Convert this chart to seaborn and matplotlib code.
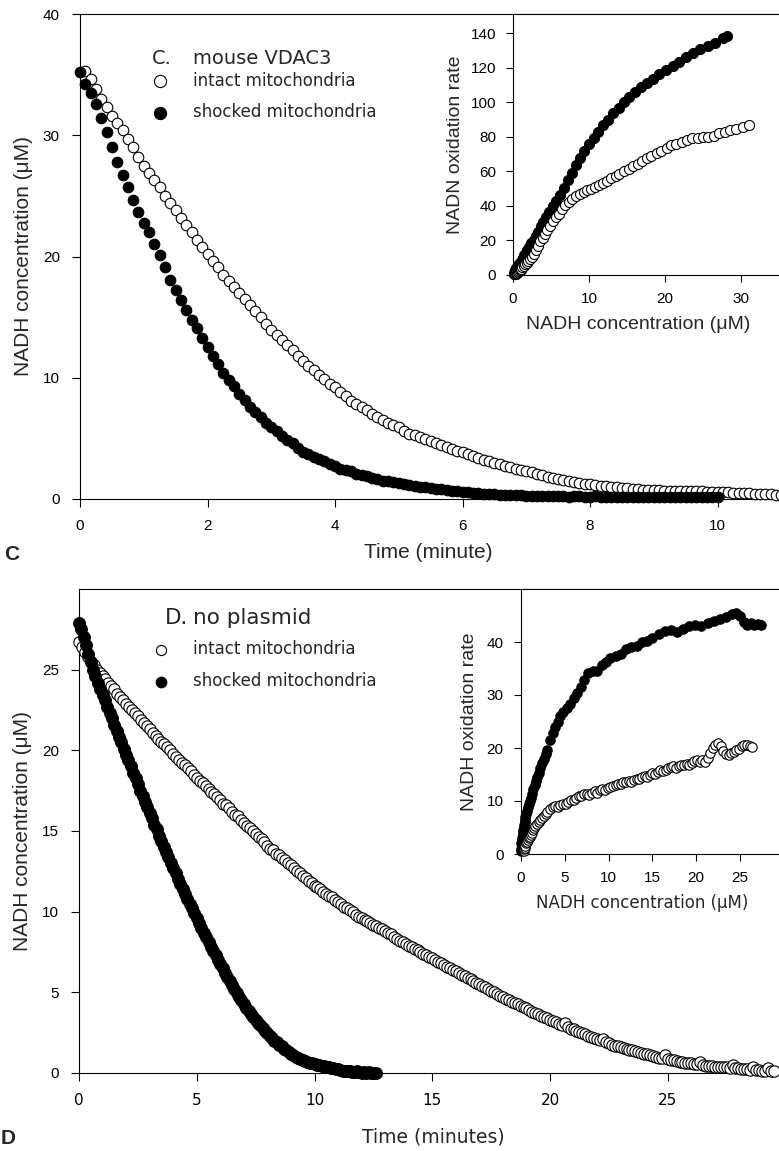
import matplotlib
matplotlib.use("Agg")
import matplotlib.pyplot as plt
import numpy as np
import seaborn as sns

# ---------------- panel C : mouse VDAC3 ----------------
# one reading every 5 s (1/12 min); intact trace starts one reading later
c_step = 5 / 60
c_intact = [
    35.3, 34.6, 33.8, 33.0, 32.3, 31.6, 31.0, 30.4, 29.7, 29.0,
    28.2, 27.5, 26.9, 26.3, 25.7, 25.0, 24.4, 23.8, 23.2, 22.6,
    22.0, 21.4, 20.8, 20.2, 19.6, 19.1, 18.5, 18.0, 17.5, 17.0,
    16.5, 16.0, 15.5, 15.0, 14.4, 13.9, 13.5, 13.1, 12.7, 12.3,
    11.8, 11.4, 11.0, 10.6, 10.2, 9.9, 9.5, 9.2, 8.8, 8.5,
    8.1, 7.8, 7.6, 7.3, 7.0, 6.8, 6.5, 6.3, 6.1, 5.9,
    5.6, 5.4, 5.25, 5.1, 4.95, 4.8, 4.6, 4.45, 4.3, 4.15,
    4.0, 3.85, 3.7, 3.55, 3.4, 3.25, 3.1, 3.0, 2.85, 2.75,
    2.6, 2.5, 2.4, 2.3, 2.2, 2.05, 1.95, 1.85, 1.75, 1.65,
    1.55, 1.45, 1.4, 1.3, 1.25, 1.2, 1.15, 1.1, 1.05, 1.0,
    0.97, 0.93, 0.9, 0.85, 0.8, 0.78, 0.75, 0.73, 0.72, 0.7,
    0.7, 0.68, 0.68, 0.66, 0.65, 0.63, 0.62, 0.6, 0.6, 0.58,
    0.56, 0.54, 0.52, 0.5, 0.48, 0.47, 0.45, 0.43, 0.4, 0.38,
    0.36, 0.35,
]
c_shocked = [
    35.2, 34.2, 33.5, 32.6, 31.4, 30.3, 29.0, 27.8, 26.7, 25.7,
    24.7, 23.7, 22.8, 22.0, 21.0, 20.1, 19.1, 18.1, 17.2, 16.4,
    15.6, 14.8, 14.1, 13.3, 12.5, 11.8, 11.1, 10.4, 9.8, 9.3,
    8.7, 8.2, 7.6, 7.2, 6.8, 6.3, 5.9, 5.6, 5.2, 4.9,
    4.6, 4.2, 3.9, 3.7, 3.5, 3.3, 3.1, 2.9, 2.7, 2.5,
    2.4, 2.3, 2.1, 2.0, 1.9, 1.75, 1.65, 1.5, 1.45, 1.4,
    1.3, 1.25, 1.15, 1.1, 1.0, 0.95, 0.9, 0.85, 0.8, 0.75,
    0.7, 0.65, 0.6, 0.55, 0.5, 0.48, 0.45, 0.42, 0.4, 0.37,
    0.35, 0.32, 0.3, 0.3, 0.28,
    0.27, 0.25, 0.26, 0.24, 0.22, 0.25, 0.23, 0.2, 0.22, 0.21,
    0.2, 0.19, 0.22, 0.2, 0.18, 0.2, 0.17, 0.19, 0.18, 0.16,
    0.18, 0.17, 0.15, 0.17, 0.16, 0.18, 0.15, 0.16, 0.14, 0.16,
    0.15, 0.17, 0.15, 0.14, 0.16, 0.15,
]
# inset: oxidation rate vs NADH concentration
c_ins_shocked_conc = [
    0.1, 0.15, 0.2, 0.2, 0.25, 0.3, 0.3, 0.4, 0.45, 0.5,
    0.6, 0.7, 0.8, 0.9, 1.0, 1.15, 1.3, 1.5, 1.65, 1.9,
    2.1, 2.4, 2.7, 3.0, 3.3, 3.7, 4.0, 4.4, 4.8, 5.3,
    5.7, 6.2, 6.7, 7.2, 7.7, 8.3, 8.8, 9.4, 10.0, 10.6,
    11.2, 11.9, 12.5, 13.2, 13.9, 14.6, 15.3, 16.1, 16.8, 17.6,
    18.4, 19.2, 20.1, 21.0, 21.9, 22.8, 23.7, 24.6, 25.6, 26.6,
    27.6, 28.2,
]
c_ins_shocked_rate = [
    0.8, 1.2, 2.0, 0.5, 2.5, 1.5, 3.0, 3.2, 4.0, 4.2,
    5.0, 5.6, 6.4, 7.0, 7.8, 8.8, 10.0, 11.5, 12.6, 14.5,
    16.0, 18.3, 20.5, 22.8, 25.0, 28.2, 30.5, 33.5, 36.5, 40.0,
    43.0, 46.5, 50.5, 55.0, 59.0, 63.5, 67.5, 72.0, 76.0, 79.5,
    83.0, 86.5, 89.5, 93.5, 96.5, 100.0, 103.0, 106.0, 108.5, 111.0,
    113.5, 116.0, 118.5, 121.0, 123.5, 126.0, 128.5, 130.5, 132.5, 134.5,
    137.0, 138.0,
]
c_ins_intact_conc = [
    0.3, 0.4, 0.45, 0.5, 0.6, 0.7, 0.8, 0.9, 1.0, 1.1,
    1.2, 1.4, 1.6, 1.8, 2.0, 2.2, 2.5, 2.7, 3.0, 3.3,
    3.6, 3.9, 4.2, 4.5, 4.9, 5.3, 5.7, 6.1, 6.5, 6.9,
    7.4, 7.8, 8.3, 8.8, 9.3, 9.8, 10.3, 10.8, 11.3, 11.8,
    12.4, 12.9, 13.5, 14.0, 14.6, 15.2, 15.8, 16.4, 17.0, 17.6,
    18.2, 18.9, 19.5, 20.2, 20.8, 21.5, 22.2, 22.9, 23.6, 24.3,
    25.0, 25.7, 26.4, 27.1, 27.9, 28.6, 29.4, 30.2, 31.0,
]
c_ins_intact_rate = [
    0.5, 0.8, 1.0, 1.2, 1.5, 1.9, 2.2, 2.7, 3.1, 3.5,
    4.4, 5.3, 6.1, 7.1, 8.0, 9.0, 10.5, 12.0, 14.5, 17.0,
    19.5, 21.5, 23.5, 25.8, 28.5, 31.0, 33.5, 35.5, 38.0, 40.5,
    42.5, 44.0, 45.5, 47.0, 48.0, 49.0, 50.0, 51.0, 52.0, 53.0,
    54.5, 56.0, 57.5, 58.5, 60.0, 61.5, 63.0, 64.5, 66.0, 67.5,
    69.0, 70.5, 72.0, 73.5, 75.0, 76.0, 77.0, 78.0, 79.0, 79.5,
    80.0, 80.0, 80.5, 82.0, 83.0, 84.0, 84.5, 85.5, 86.5,
]

# ---------------- panel D : no plasmid ----------------
d_intact_step = 7.5 / 60   # min, one row below = one minute
d_shocked_step = 0.1       # min
d_intact = [
    26.7, 26.4, 26.1, 25.8, 25.5, 25.3, 25.0, 24.8,
    24.6, 24.4, 24.2, 24.0, 23.8, 23.5, 23.3, 23.1,
    22.9, 22.7, 22.5, 22.3, 22.1, 21.9, 21.7, 21.5,
    21.3, 21.1, 20.9, 20.7, 20.5, 20.4, 20.2, 20.0,
    19.8, 19.6, 19.4, 19.2, 19.1, 18.9, 18.7, 18.5,
    18.3, 18.1, 18.0, 17.8, 17.6, 17.4, 17.3, 17.1,
    16.9, 16.7, 16.6, 16.4, 16.2, 16.0, 15.9, 15.7,
    15.5, 15.3, 15.2, 15.0, 14.8, 14.6, 14.5, 14.3,
    14.1, 13.9, 13.8, 13.6, 13.5, 13.3, 13.2, 13.0,
    12.9, 12.7, 12.5, 12.4, 12.2, 12.1, 11.9, 11.8,
    11.6, 11.5, 11.4, 11.2, 11.1, 11.0, 10.9, 10.7,
    10.6, 10.5, 10.3, 10.2, 10.1, 10.0, 9.8, 9.7,
    9.6, 9.5, 9.4, 9.3, 9.2, 9.1, 9.0, 8.9,
    8.8, 8.7, 8.6, 8.4, 8.3, 8.2, 8.1, 8.0,
    7.9, 7.8, 7.7, 7.6, 7.5, 7.4, 7.3, 7.2,
    7.1, 7.0, 6.9, 6.8, 6.7, 6.6, 6.5, 6.4,
    6.3, 6.2, 6.1, 6.0, 5.9, 5.8, 5.7, 5.6,
    5.5, 5.4, 5.3, 5.2, 5.1, 5.0, 4.9, 4.8,
    4.7, 4.6, 4.5, 4.4, 4.35, 4.25, 4.15, 4.1,
    4.0, 3.9, 3.8, 3.7, 3.65, 3.55, 3.45, 3.4,
    3.3, 3.2, 3.15, 3.05, 3.0, 3.1, 2.85, 2.75,
    2.7, 2.6, 2.55, 2.45, 2.4, 2.3, 2.25, 2.15,
    2.1, 2.05, 2.1, 1.9, 1.85, 1.75, 1.7, 1.65,
    1.6, 1.55, 1.5, 1.45, 1.4, 1.35, 1.3, 1.25,
    1.2, 1.15, 1.1, 1.05, 1.0, 0.95, 0.9, 1.1,
    0.85, 0.8, 0.8, 0.75, 0.7, 0.7, 0.65, 0.65,
    0.6, 0.55, 0.55, 0.7, 0.5, 0.45, 0.45, 0.45,
    0.4, 0.4, 0.35, 0.35, 0.35, 0.3, 0.5, 0.3,
    0.3, 0.25, 0.25, 0.25, 0.2, 0.4, 0.2, 0.2,
    0.15, 0.15, 0.3, 0.1, 0.1,
]
d_shocked = [
    27.9, 27.5, 27.0, 26.5, 26.0, 25.5, 25.0, 24.6, 24.2, 23.8,
    23.4, 23.1, 22.7, 22.3, 22.0, 21.6, 21.2, 20.8, 20.5, 20.1,
    19.7, 19.4, 19.0, 18.6, 18.3, 17.9, 17.5, 17.2, 16.8, 16.5,
    16.1, 15.8, 15.4, 15.1, 14.7, 14.4, 14.0, 13.7, 13.4, 13.0,
    12.7, 12.4, 12.0, 11.7, 11.4, 11.1, 10.8, 10.5, 10.2, 9.9,
    9.6, 9.3, 9.0, 8.7, 8.4, 8.1, 7.8, 7.55, 7.3, 7.0,
    6.75, 6.5, 6.2, 5.95, 5.7, 5.45, 5.2, 4.95, 4.7, 4.5,
    4.25, 4.05, 3.85, 3.65, 3.45, 3.3, 3.1, 2.95, 2.8, 2.6,
    2.45, 2.3, 2.15, 2.0, 1.9, 1.75, 1.65, 1.5, 1.4, 1.3,
    1.2, 1.1, 1.0, 0.95, 0.85, 0.8, 0.75, 0.7, 0.65, 0.6,
    0.55, 0.5, 0.48, 0.45, 0.42, 0.4, 0.35, 0.3, 0.28, 0.25,
    0.22, 0.2, 0.15, 0.12, 0.1, 0.12, 0.08, 0.05, 0.1, 0.05,
    0.03, 0.05, 0.02, 0.04, 0.0, 0.03, 0.02,
]
d_ins_shocked_conc = [
    0.0, 0.05, 0.05, 0.1, 0.1, 0.15, 0.2, 0.2, 0.25, 0.3,
    0.35, 0.4, 0.45, 0.5, 0.6, 0.7, 0.8, 0.9, 1.0, 1.1,
    1.25, 1.4, 1.55, 1.7, 1.85, 2.0, 2.2, 2.4, 2.6, 2.8,
    3.0, 3.3, 3.6, 3.9, 4.2, 4.5, 4.8, 5.2, 5.6, 6.0,
    6.4, 6.8, 7.2, 7.7, 8.2, 8.7, 9.2, 9.7, 10.2, 10.8,
    11.4, 12.0, 12.6, 13.2, 13.8, 14.4, 15.0, 15.7, 16.4, 17.1,
    17.8, 18.5, 19.2, 19.9, 20.6, 21.3, 22.0, 22.7, 23.4, 24.1,
    24.6, 25.0, 25.4, 25.8, 26.2, 26.6, 27.0, 27.4,
]
d_ins_shocked_rate = [
    0.5, 1.0, 2.0, 1.5, 3.0, 2.5, 3.5, 4.5, 4.0, 5.0,
    5.5, 6.0, 6.5, 7.0, 7.5, 8.2, 8.8, 9.4, 10.0, 10.6,
    11.4, 12.2, 13.0, 13.8, 14.6, 15.3, 16.2, 17.1, 18.0, 18.9,
    19.7, 21.5, 22.8, 24.0, 25.0, 26.0, 26.8, 27.5, 28.3, 29.5,
    30.3, 31.5, 32.8, 34.2, 34.5, 34.6, 35.6, 36.3, 37.0, 37.4,
    37.8, 38.6, 39.0, 39.2, 40.0, 40.2, 40.8, 41.6, 42.0, 42.3,
    41.8, 42.5, 43.0, 43.2, 43.0, 43.6, 43.9, 44.3, 44.8, 45.2,
    45.4, 45.0, 43.8, 43.3, 43.5, 43.2, 43.4, 43.3,
]
d_ins_intact_conc = [
    0.3, 0.35, 0.4, 0.5, 0.6, 0.7, 0.8, 0.9, 1.0, 1.1,
    1.2, 1.35, 1.5, 1.65, 1.8, 2.0, 2.2, 2.4, 2.6, 2.8,
    3.0, 3.3, 3.6, 3.9, 4.2, 4.5, 4.8, 5.1, 5.4, 5.7,
    6.0, 6.3, 6.6, 6.9, 7.2, 7.5, 7.8, 8.1, 8.4, 8.7,
    9.0, 9.3, 9.6, 9.9, 10.2, 10.5, 10.8, 11.1, 11.4, 11.7,
    12.0, 12.3, 12.6, 12.9, 13.2, 13.5, 13.8, 14.1, 14.4, 14.7,
    15.0, 15.3, 15.6, 15.9, 16.2, 16.5, 16.8, 17.1, 17.4, 17.7,
    18.0, 18.3, 18.6, 18.9, 19.2, 19.5, 19.8, 20.1, 20.4, 20.7,
    21.0, 21.3, 21.6, 21.9, 22.2, 22.5, 22.8, 23.1, 23.4, 23.7,
    24.0, 24.3, 24.6, 24.9, 25.2, 25.5, 25.8, 26.1, 26.4,
]
d_ins_intact_rate = [
    0.5, 1.0, 1.2, 1.5, 2.0, 2.3, 2.7, 3.0, 3.3, 3.6,
    4.0, 4.5, 4.9, 5.3, 5.6, 6.0, 6.4, 6.8, 7.2, 7.6,
    8.0, 8.4, 8.8, 9.0, 8.9, 9.3, 9.5, 9.4, 9.8, 10.1,
    10.2, 10.5, 10.9, 11.0, 11.3, 11.4, 11.2, 11.6, 11.8, 11.6,
    12.0, 12.2, 12.1, 12.5, 12.7, 12.8, 13.1, 13.3, 13.2, 13.6,
    13.5, 13.8, 13.6, 14.0, 14.2, 14.1, 14.5, 14.8, 14.6, 15.0,
    15.3, 15.1, 15.4, 15.8, 15.6, 15.9, 16.2, 16.4, 16.6, 16.3,
    16.6, 16.8, 16.7, 17.0, 16.8, 17.2, 17.5, 17.7, 17.3, 17.8,
    17.4, 18.2, 19.0, 20.0, 20.6, 21.0, 20.4, 19.4, 18.8, 18.6,
    19.0, 19.3, 19.6, 19.9, 20.3, 20.5, 20.6, 20.3, 20.2,
]

labels = ["intact mitochondria", "shocked mitochondria"]

ARIAL = "Liberation Sans"
VERDANA = "DejaVu Sans"
W, H = 779, 1151


def rect(left, top, right, bottom):
    # pixel box -> figure fraction
    return [left / W, 1 - bottom / H, (right - left) / W, (bottom - top) / H]


def px(x):
    return x / W


def py(y):
    return 1 - y / H


def draw(ax, x, y, filled, size, label=None):
    sns.scatterplot(x=x, y=y, ax=ax, s=size,
                    color="black" if filled else "white",
                    edgecolor="black", linewidth=0.8,
                    clip_on=False, legend=False, label=label, zorder=3)


def style_axis(ax, tick_len, pad, xfont, yfont):
    for side in ["left", "bottom", "top"]:
        ax.spines[side].set_linewidth(0.8)
        ax.spines[side].set_color("black")
    ax.spines["right"].set_visible(False)
    ax.tick_params(direction="out", length=tick_len, width=0.8, pad=pad,
                   labelsize=11, colors="black", top=False, right=False)
    for lab in ax.get_xticklabels():
        lab.set_fontfamily(xfont)
    for lab in ax.get_yticklabels():
        lab.set_fontfamily(yfont)


sns.set_style("ticks")
plt.rcParams["font.family"] = [ARIAL, VERDANA]

fig = plt.figure(figsize=(W / 100, H / 100), dpi=100)

# ---------- C main ----------
ax_c = fig.add_axes(rect(80, 14, 779, 499))
t_ci = np.arange(1, len(c_intact) + 1) * c_step
t_cs = np.arange(len(c_shocked)) * c_step
draw(ax_c, t_ci, c_intact, False, 58, labels[0])
draw(ax_c, t_cs, c_shocked, True, 58, labels[1])
ax_c.set_xlim(0, 699 / 63.75)
ax_c.set_ylim(0, 40)
ax_c.set_xticks([0, 2, 4, 6, 8, 10])
ax_c.set_yticks([0, 10, 20, 30, 40])
style_axis(ax_c, 6, 8.5, ARIAL, ARIAL)
ax_c.set_xlabel("Time (minute)", fontsize=15, family=ARIAL, va="center")
ax_c.xaxis.set_label_coords(0.498, -0.111)
ax_c.set_ylabel("NADH concentration (μM)", fontsize=15, family=ARIAL, va="center")
ax_c.yaxis.set_label_coords(-0.0815, 0.5)
ax_c.legend(loc="center left", bbox_to_anchor=(px(151.7), py(96.5)),
            bbox_transform=fig.transFigure, frameon=False,
            prop={"family": VERDANA, "size": 12}, handlelength=1.0,
            handletextpad=1.47, labelspacing=0.8, borderpad=0,
            borderaxespad=0, markerscale=1.15)
fig.text(px(152), py(58), "C.", fontsize=14, family=VERDANA, va="center")
fig.text(px(193), py(58), "mouse VDAC3", fontsize=14, family=VERDANA, va="center")

# ---------- C inset ----------
ax_ci = fig.add_axes(rect(513, 14, 779, 275))
ax_ci.set_facecolor("white")
draw(ax_ci, c_ins_shocked_conc, c_ins_shocked_rate, True, 52)
draw(ax_ci, c_ins_intact_conc, c_ins_intact_rate, False, 52)
ax_ci.set_xlim(0, 35)
ax_ci.set_ylim(0, 151)
ax_ci.set_xticks([0, 10, 20, 30])
ax_ci.set_yticks([0, 20, 40, 60, 80, 100, 120, 140])
style_axis(ax_ci, 5, 7, ARIAL, ARIAL)
ax_ci.set_xlabel("NADH concentration (μM)", fontsize=14, family=ARIAL, va="center")
ax_ci.xaxis.set_label_coords(0.47, -0.19)
ax_ci.set_ylabel("NADN oxidation rate", fontsize=14, family=ARIAL, va="center")
ax_ci.yaxis.set_label_coords(-0.218, 0.5)

# ---------- D main ----------
ax_d = fig.add_axes(rect(79, 589, 779, 1073))
t_di = np.arange(len(d_intact)) * d_intact_step
t_ds = np.arange(len(d_shocked)) * d_shocked_step
draw(ax_d, t_di, d_intact, False, 66, labels[0])
draw(ax_d, t_ds, d_shocked, True, 72, labels[1])
ax_d.set_xlim(0, 700 / 23.55)
ax_d.set_ylim(0, 30)
ax_d.set_xticks([0, 5, 10, 15, 20, 25])
ax_d.set_yticks([0, 5, 10, 15, 20, 25])
style_axis(ax_d, 6, 8.5, VERDANA, ARIAL)
ax_d.set_xlabel("Time (minutes)", fontsize=13.5, family=VERDANA, va="center")
ax_d.xaxis.set_label_coords(0.506, -0.132)
ax_d.set_ylabel("NADH concentration (μM)", fontsize=15, family=ARIAL, va="center")
ax_d.yaxis.set_label_coords(-0.08, 0.5)
ax_d.legend(loc="center left", bbox_to_anchor=(px(152.6), py(665)),
            bbox_transform=fig.transFigure, frameon=False,
            prop={"family": VERDANA, "size": 12}, handlelength=1.0,
            handletextpad=1.42, labelspacing=0.85, borderpad=0,
            borderaxespad=0, markerscale=0.9)
fig.text(px(165), py(618), "D.", fontsize=15.5, family=VERDANA, va="center")
fig.text(px(193), py(618), "no plasmid", fontsize=15.5, family=VERDANA, va="center")

# ---------- D inset ----------
ax_di = fig.add_axes(rect(521, 589, 779, 854))
ax_di.set_facecolor("white")
draw(ax_di, d_ins_shocked_conc, d_ins_shocked_rate, True, 46)
draw(ax_di, d_ins_intact_conc, d_ins_intact_rate, False, 46)
ax_di.set_xlim(0, 258 / 8.76)
ax_di.set_ylim(0, 50)
ax_di.set_xticks([0, 5, 10, 15, 20, 25])
ax_di.set_yticks([0, 10, 20, 30, 40])
style_axis(ax_di, 5, 7.5, ARIAL, ARIAL)
ax_di.set_xlabel("NADH concentration (μM)", fontsize=12, family=VERDANA, va="center")
ax_di.xaxis.set_label_coords(0.469, -0.185)
ax_di.set_ylabel("NADH oxidation rate", fontsize=14, family=ARIAL, va="center")
ax_di.yaxis.set_label_coords(-0.198, 0.5)

# panel letters
fig.text(px(4), py(554), "C", fontsize=15, family=ARIAL, weight="bold", va="center")
fig.text(px(1), py(1138), "D", fontsize=15, family=ARIAL, weight="bold", va="center")

fig.savefig("out.png", dpi=100)
